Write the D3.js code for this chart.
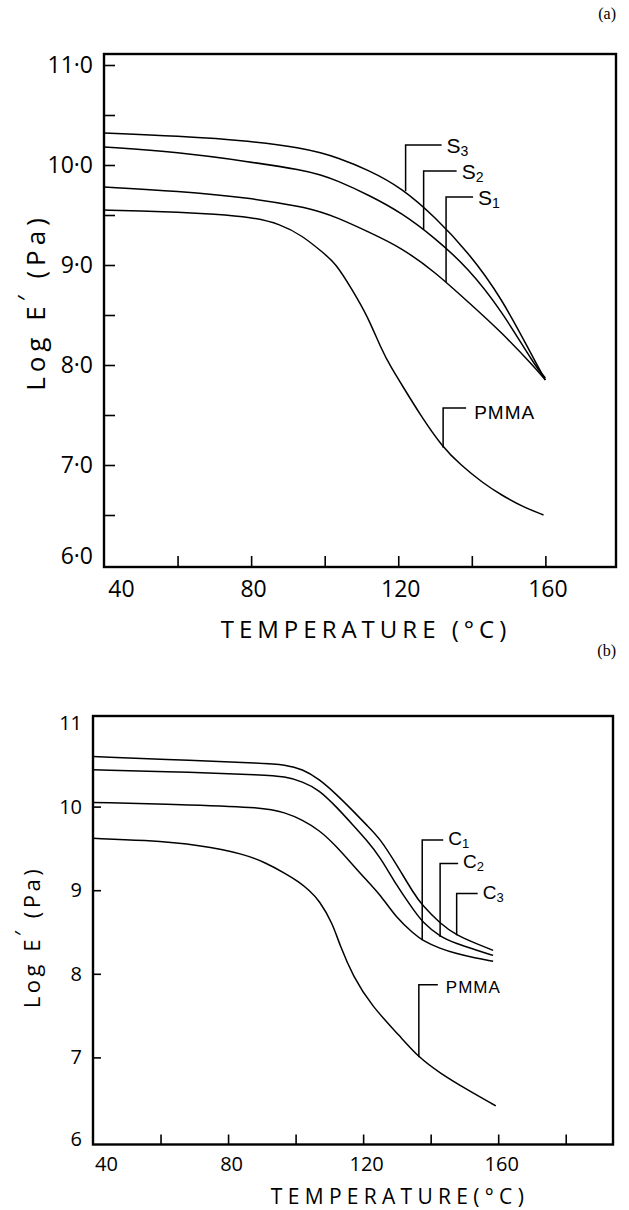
<!DOCTYPE html>
<html><head><meta charset="utf-8">
<script src="https://cdn.jsdelivr.net/npm/d3@7"></script>
<style>
body{margin:0;background:#fff}
svg{display:block}
text{font-family:"Open Sans",sans-serif;fill:#000}
</style>
</head><body>
<svg id="c" width="629" height="1210"></svg>
<script>
// ---------- Panel (a) data ----------
const sTempA  = [40, 60, 80, 94, 99, 103, 112, 121, 130, 139, 148, 157, 160];
const s3A     = [10.32, 10.29, 10.24, 10.17, 10.12, 10.08, 9.95, 9.77, 9.48, 9.13, 8.68, 8.05, 7.85];
const s2A     = [10.18, 10.13, 10.03, 9.95, 9.90, 9.85, 9.70, 9.52, 9.27, 8.97, 8.55, 8.00, 7.87];
const s1A     = [9.78, 9.74, 9.67, 9.58, 9.53, 9.48, 9.33, 9.17, 8.93, 8.63, 8.33, 7.98, 7.85];
const pmmaTempA = [40, 50, 60, 70, 80, 88, 94, 99, 103, 107.5, 111.5, 115.5, 118, 121, 126, 132, 137, 143, 148, 154, 159.5];
const pmmaA     = [9.55, 9.54, 9.53, 9.51, 9.48, 9.41, 9.29, 9.14, 9.02, 8.75, 8.50, 8.15, 7.98, 7.80, 7.50, 7.18, 7.00, 6.82, 6.70, 6.58, 6.50];
const yLabelsA = [6, 7, 8, 9, 10, 11];
const yMarksA  = [6.5, 7, 7.5, 8, 8.5, 9, 9.5, 10, 10.5, 11];
const xLabelsA = [40, 80, 120, 160];
const xMarksA  = [60, 80, 100, 120, 140, 160];
const seriesNamesA = ["S", "S", "S", "PMMA"];
const seriesSubsA  = ["3", "2", "1", ""];
const leaderTempA  = [122, 126.9, 133, 132.2];
const leaderTopA   = [10.2, 9.94, 9.68, 7.57];

// ---------- Panel (b) data ----------
const cTempB = [40, 70, 90, 97, 102, 107, 112, 117, 121, 125, 130, 135, 137.5, 142.8, 147.7, 153, 158.5];
const c3B    = [10.60, 10.55, 10.52, 10.50, 10.45, 10.33, 10.15, 9.95, 9.78, 9.62, 9.30, 8.96, 8.82, 8.60, 8.46, 8.37, 8.28];
const c2B    = [10.44, 10.41, 10.38, 10.36, 10.30, 10.20, 10.00, 9.78, 9.60, 9.40, 9.05, 8.76, 8.62, 8.44, 8.36, 8.29, 8.22];
const c1B    = [10.05, 10.02, 9.99, 9.93, 9.84, 9.72, 9.53, 9.30, 9.12, 8.95, 8.66, 8.48, 8.40, 8.30, 8.24, 8.19, 8.15];
const pmmaTempB = [40, 55, 72, 85, 91, 97, 101, 104, 107, 111, 113, 117, 122.6, 131, 136.2, 142.8, 151, 159.3];
const pmmaB     = [9.62, 9.60, 9.54, 9.43, 9.33, 9.20, 9.10, 9.00, 8.88, 8.60, 8.35, 7.97, 7.61, 7.25, 7.01, 6.81, 6.61, 6.42];
const yLabelsB = [6, 7, 8, 9, 10, 11];
const yMarksB  = [7, 8, 9, 10];
const xLabelsB = [40, 80, 120, 160];
const xMarksB  = [60, 80, 100, 120, 140, 160, 180];
const seriesNamesB = ["C", "C", "C", "PMMA"];
const seriesSubsB  = ["1", "2", "3", ""];
const leaderTempB  = [137.5, 142.8, 147.7, 136.5];
const leaderTopB   = [9.60, 9.32, 8.96, 7.87];

const svg = d3.select("#c");
const labelFont = "'Liberation Sans',Arial,sans-serif";

function interp(ts, vs, t){
  for(let i=1;i<ts.length;i++){
    if(t<=ts[i]){const f=(t-ts[i-1])/(ts[i]-ts[i-1]);return vs[i-1]+f*(vs[i]-vs[i-1]);}
  }
  return vs[vs.length-1];
}

function panel(p){
  const x = d3.scaleLinear().domain(p.xDomain).range([p.left, p.right]);
  const y = d3.scaleLinear().domain(p.yDomain).range(p.yRange);
  const g = svg.append("g");

  g.append("rect").attr("x",p.left).attr("y",p.top)
    .attr("width",p.right-p.left).attr("height",p.bottom-p.top)
    .attr("fill","none").attr("stroke","#000").attr("stroke-width",2.4);

  const xm = g.append("g").attr("transform",`translate(0,${p.bottom})`)
    .call(d3.axisBottom(x).tickValues(p.xMarks).tickSize(-p.tickLen).tickFormat(""));
  xm.select(".domain").remove();
  xm.selectAll("line").attr("stroke","#000").attr("stroke-width",1.6);

  const xl = g.append("g").attr("transform",`translate(0,${p.bottom})`)
    .call(d3.axisBottom(x).tickValues(p.xLabels).tickSize(0).tickPadding(p.xPad).tickFormat(d3.format("d")));
  xl.attr("font-family",null).attr("font-size",p.fs);
  xl.select(".domain").remove();
  xl.selectAll("text").attr("fill","#000");
  xl.selectAll(".tick").filter(d=>d===p.xDomain[0]).select("text").attr("dx",p.firstDx);
  xl.selectAll(".tick").filter(d=>d!==p.xDomain[0]).select("text").attr("dx",p.otherDx);

  const ym = g.append("g").attr("transform",`translate(${p.left},0)`)
    .call(d3.axisLeft(y).tickValues(p.yMarks).tickSize(-p.yTickLen).tickFormat(""));
  ym.select(".domain").remove();
  ym.selectAll("line").attr("stroke","#000").attr("stroke-width",1.6);

  const yl = g.append("g").attr("transform",`translate(${p.left},0)`)
    .call(d3.axisLeft(y).tickValues(p.yLabels).tickSize(0).tickPadding(p.yPad).tickFormat(p.yFmt));
  yl.attr("font-family",null).attr("font-size",p.fs);
  yl.select(".domain").remove();
  yl.selectAll("text").attr("fill","#000");
  yl.selectAll(".tick").filter(d=>d===p.yDomain[0]).select("text").attr("dy",p.bottomLabelDy);

  const line = d3.line().x(d=>x(d[0])).y(d=>y(d[1])).curve(d3.curveBasis);
  p.series.forEach(s=>{
    g.append("path").datum(s.t.map((t,i)=>[t,s.v[i]]))
      .attr("d",line).attr("fill","none").attr("stroke","#000").attr("stroke-width",1.5);
  });

  p.series.forEach((s,i)=>{
    const lt = p.leaderT[i], top = p.leaderTop[i];
    const bot = interp(s.t, s.v, lt);
    const x0 = x(lt), yb = y(bot), yt = y(top);
    const isP = p.names[i]==="PMMA";
    const hl = p.hLen[i];
    g.append("path").attr("d",`M${x0},${yb}V${yt}H${x0+hl}`)
      .attr("fill","none").attr("stroke","#000").attr("stroke-width",1.5);
    const t = g.append("text").attr("x",x0+hl+(isP?p.pGap:p.sGap))
      .attr("y",yt+(isP?p.pDy:p.sDy)).attr("font-size",isP?p.pFs:p.sFs)
      .style("font-family",labelFont)
      .attr("letter-spacing",isP?1:0);
    t.append("tspan").text(p.names[i]);
    if(p.subs[i]) t.append("tspan").attr("dy",p.subDy).attr("font-size",p.subFs).text(p.subs[i]);
  });

  g.append("text").attr("x",p.xTitleX).attr("y",p.xTitleY).attr("text-anchor","middle")
    .attr("font-size",p.titleFs).attr("letter-spacing",p.titleLs).text(p.xTitle);

  const yt = g.append("text").attr("transform",`translate(${p.yTitleX},${p.yTitleY}) rotate(-90)`)
    .attr("text-anchor","middle").attr("font-size",p.yTitleFs).attr("letter-spacing",p.yTitleLs);
  yt.append("tspan").text("Log E");
  yt.append("tspan").attr("dy",-9).attr("font-size",p.yTitleFs).text("′");
  yt.append("tspan").attr("dy",9).text(" (Pa)");

  svg.append("text").attr("x",616).attr("y",p.tagY).attr("text-anchor","end")
    .style("font-family","'Liberation Serif',serif")
    .attr("font-size",16).text(p.tag);
}

panel({
  left:104, right:616, top:54, bottom:567,
  xDomain:[40,179.2], yDomain:[6,11], yRange:[565,65],
  xMarks:xMarksA, xLabels:xLabelsA, yMarks:yMarksA, yLabels:yLabelsA,
  yFmt:d=>d3.format(".1f")(d).replace(".","·"),
  tickLen:11, yTickLen:11, fs:23, xPad:14, yPad:11, firstDx:17, otherDx:2, bottomLabelDy:"-0.05em",
  series:[{t:sTempA,v:s3A},{t:sTempA,v:s2A},{t:sTempA,v:s1A},{t:pmmaTempA,v:pmmaA}],
  names:seriesNamesA, subs:seriesSubsA, leaderT:leaderTempA, leaderTop:leaderTopA,
  hLen:[36,33,27,23], sGap:5, pGap:8, sDy:8, pDy:11, sFs:21, pFs:19, subFs:14, subDy:3,
  xTitle:"TEMPERATURE (°C)", xTitleX:366, xTitleY:638, titleFs:24, titleLs:5,
  yTitleFs:26, yTitleLs:5, yTitleX:45, yTitleY:302, tag:"(a)", tagY:19
});

panel({
  left:93, right:613, top:716, bottom:1144.5,
  xDomain:[40,194], yDomain:[6,11], yRange:[1141,723],
  xMarks:xMarksB, xLabels:xLabelsB, yMarks:yMarksB, yLabels:yLabelsB,
  yFmt:d3.format("d"),
  tickLen:10, yTickLen:8, fs:20, xPad:12, yPad:11, firstDx:13, otherDx:3, bottomLabelDy:"0.2em",
  series:[{t:cTempB,v:c1B},{t:cTempB,v:c2B},{t:cTempB,v:c3B},{t:pmmaTempB,v:pmmaB}],
  names:seriesNamesB, subs:seriesSubsB, leaderT:leaderTempB, leaderTop:leaderTopB,
  hLen:[21,18,21,19], sGap:5, pGap:8, sDy:5, pDy:8, sFs:19, pFs:17, subFs:13, subDy:3,
  xTitle:"TEMPERATURE(°C)", xTitleX:400, xTitleY:1204, titleFs:21, titleLs:5.3,
  yTitleFs:22, yTitleLs:3.5, yTitleX:40, yTitleY:937, tag:"(b)", tagY:656
});
</script>
</body></html>
